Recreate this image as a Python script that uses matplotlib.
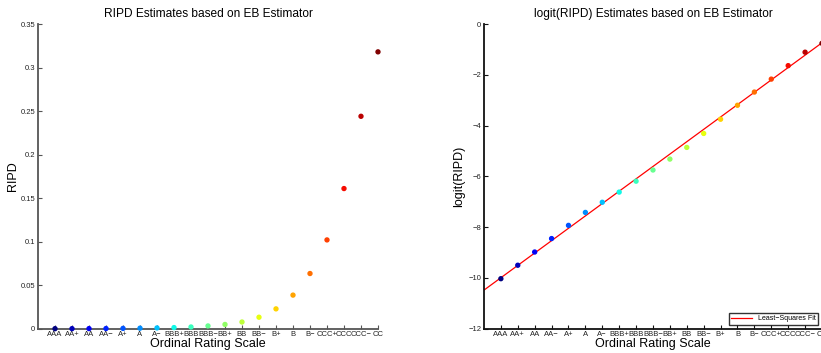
import numpy as np
import matplotlib
matplotlib.use("Agg")
import matplotlib.pyplot as plt

plt.rc('font', family=['Liberation Sans', 'DejaVu Sans'])

ratings = ['AAA', 'AA+', 'AA', 'AA\u2212', 'A+', 'A', 'A\u2212', 'BBB+', 'BBB', 'BBB\u2212',
           'BB+', 'BB', 'BB\u2212', 'B+', 'B', 'B\u2212', 'CCC+', 'CCC', 'CCC\u2212', 'CC']

ripd = [0.00004, 0.00007, 0.00013, 0.00021, 0.00036, 0.0006, 0.0009, 0.0013, 0.002, 0.0032,
        0.0049, 0.0077, 0.0132, 0.0228, 0.0386, 0.0634, 0.102, 0.161, 0.244, 0.318]

logit_ripd = [-10.03, -9.50, -8.98, -8.45, -7.93, -7.42, -7.02, -6.62, -6.19, -5.75,
              -5.32, -4.86, -4.31, -3.75, -3.20, -2.68, -2.17, -1.64, -1.11, -0.76]

fit_x = [0, 20]
fit_y = [-10.48, -0.74]

x = np.arange(1, len(ratings) + 1)
colors = plt.get_cmap('jet')(np.linspace(0, 1, len(ratings)))

fig = plt.figure(figsize=(8.21, 3.53), dpi=100)
ax1 = fig.add_axes([0.0463, 0.0688, 0.4141, 0.8632])
ax2 = fig.add_axes([0.5895, 0.0688, 0.4117, 0.8632])

def style(ax, col):
    for s in ['top', 'right']:
        ax.spines[s].set_visible(False)
    for s in ['left', 'bottom']:
        ax.spines[s].set_color(col)
        ax.spines[s].set_linewidth(1.3)
    ax.tick_params(direction='in', length=3, width=0.8, color=col, labelsize=5.5, pad=2,
                   labelcolor='#222222')
    ax.set_xlim(0, 20)
    ax.set_xticks(x)
    ax.set_xticklabels(ratings)
    ax.set_xlabel('Ordinal Rating Scale', fontsize=9, labelpad=0)

# left panel
style(ax1, '#555555')
ax1.scatter(x, ripd, c=colors, s=8, zorder=3, clip_on=False)
ax1.set_ylim(0, 0.35)
ax1.set_yticks([0, 0.05, 0.1, 0.15, 0.2, 0.25, 0.3, 0.35])
ax1.set_yticklabels(['0', '0.05', '0.1', '0.15', '0.2', '0.25', '0.3', '0.35'])
ax1.set_ylabel('RIPD', fontsize=9, labelpad=1)
ax1.set_title('RIPD Estimates based on EB Estimator', fontsize=8.6, pad=5)

# right panel
style(ax2, '#111111')
ax2.plot(fit_x, fit_y, color='red', lw=0.9, label='Least\u2212Squares Fit', zorder=2)
ax2.scatter(x, logit_ripd, c=colors, s=8, zorder=3)
ax2.set_ylim(-12, 0)
ax2.set_yticks([-12, -10, -8, -6, -4, -2, 0])
ax2.set_ylabel('logit(RIPD)', fontsize=9, labelpad=2)
ax2.set_title('logit(RIPD) Estimates based on EB Estimator', fontsize=8.6, pad=5)
leg = ax2.legend(loc='lower right', fontsize=5, frameon=True, fancybox=False,
                 borderpad=0.3, handlelength=3.0, borderaxespad=0.6)
leg.get_frame().set_edgecolor('black')
leg.get_frame().set_linewidth(1.0)

plt.savefig('out.png', dpi=100)
